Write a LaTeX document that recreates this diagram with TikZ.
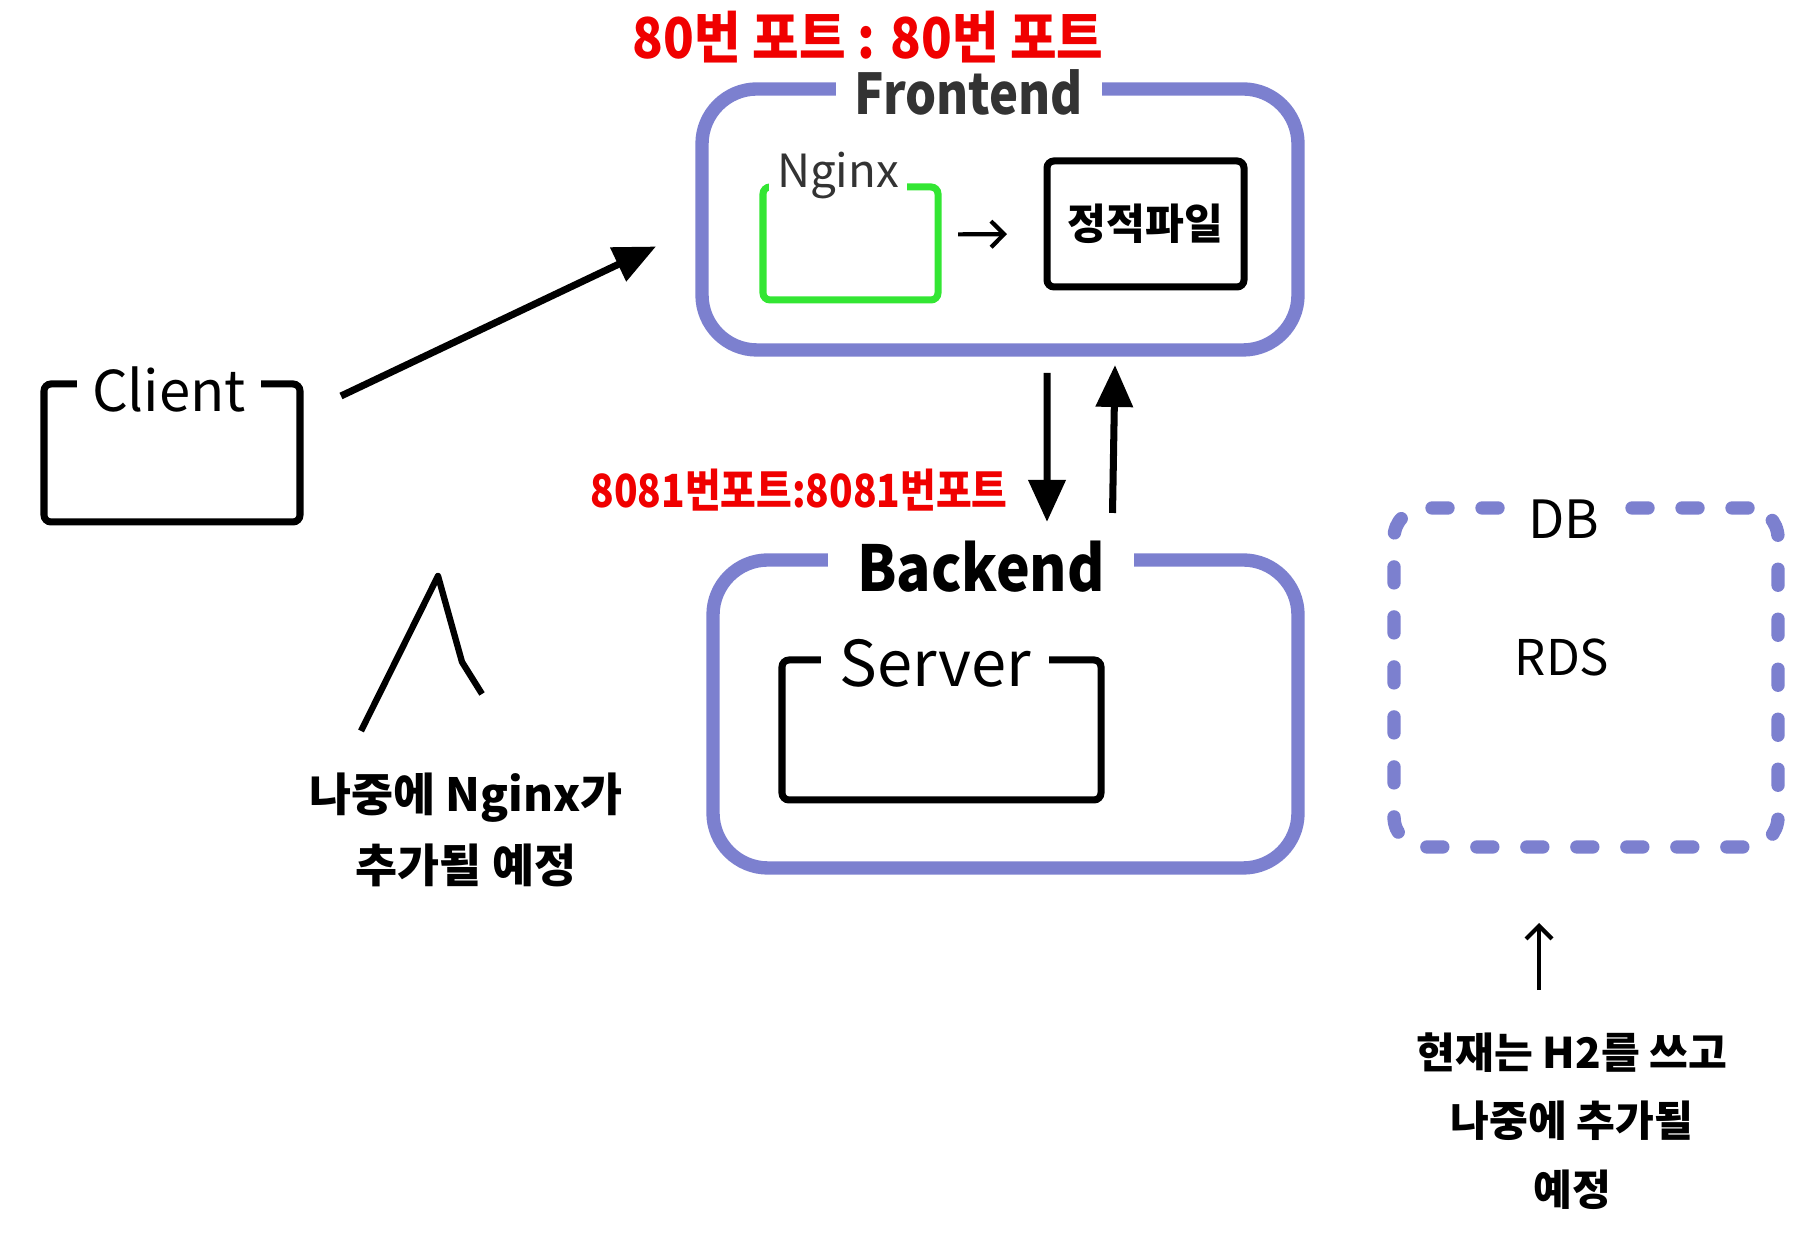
\documentclass[tikz,border=0pt]{standalone}
\usepackage{fontspec}
\setmainfont{Noto Sans CJK KR}
\usetikzlibrary{arrows.meta, positioning, calc}
\definecolor{FrameBlue}{HTML}{7C80CF}
\definecolor{PortRed}{HTML}{F00000}
\definecolor{NginxGreen}{HTML}{33E633}
\definecolor{InkGray}{HTML}{333333}
\tikzset{
  frame/.style={draw=FrameBlue, line width=3.8pt, rounded corners=0.55cm, outer sep=0pt},
  dbframe/.style={draw=FrameBlue, line width=3.8pt, rounded corners=0.3cm, outer sep=0pt,
                  line cap=round, dash pattern=on 0.16cm off 0.34cm},
  sketchbox/.style={draw=black, line width=2pt, rounded corners=2pt, outer sep=0pt},
  tag/.style={fill=white, inner ysep=1pt},
  bigarrow/.style={line width=2pt, -{Triangle[length=0.42cm, width=0.36cm]}},
  smallarrow/.style={line width=1.2pt, -{Straight Barb[length=1.3mm]}},
  portlabel/.style={text=PortRed, transform shape},
  note/.style={align=center, font=\fontsize{13}{20}\selectfont\bfseries},
}

\begin{document}
\begin{tikzpicture}
    \useasboundingbox (0,0) rectangle (17.99,12.54);

    % Port labels
    \node[portlabel, xscale=0.9, font=\fontsize{16}{19}\selectfont\bfseries] (port80) at (8.68,12.17) {80번 포트 : 80번 포트};
    \node[portlabel, xscale=0.85, font=\fontsize{13}{16}\selectfont\bfseries] (port8081) at (7.99,7.64) {8081번포트:8081번포트};

    % Frontend
    \node[frame, minimum width=5.96cm, minimum height=2.61cm] (frontend) at (10.00,10.345) {};
    \node[tag, inner xsep=0.22cm, text=InkGray, xscale=0.87, transform shape, font=\fontsize{16}{19}\selectfont\bfseries] (frontendlbl) at (9.69,11.62) {Frontend};

    \node[sketchbox, draw=NginxGreen, minimum width=1.75cm, minimum height=1.13cm] (nginx) at (8.505,10.105) {};
    \node[tag, inner xsep=0.08cm, text=InkGray, font=\fontsize{13}{15}\selectfont] (nginxlbl) at (8.38,10.78) {Nginx};

    \node[sketchbox, minimum width=1.97cm, minimum height=1.26cm, font=\fontsize{12}{14}\selectfont\bfseries] (static) at (11.455,10.30) {정적파일};
    \draw[smallarrow, shorten <=0.2cm, shorten >=0.4cm] ([yshift=0.09cm]nginx.east) -- ([yshift=-0.1cm]static.west);

    % Client
    \node[sketchbox, minimum width=2.56cm, minimum height=1.38cm] (client) at (1.72,8.01) {};
    \node[tag, inner xsep=0.15cm, font=\fontsize{16}{19}\selectfont] (clientlbl) at (1.69,8.64) {Client};
    \draw[bigarrow] ([xshift=0.41cm,yshift=-0.12cm]client.north east) -- ([xshift=-0.46cm,yshift=-0.27cm]frontend.west);

    % Backend
    \node[frame, minimum width=5.85cm, minimum height=3.08cm] (backend) at (10.055,5.40) {};
    \node[tag, inner xsep=0.32cm, xscale=0.9, transform shape, font=\fontsize{18}{21}\selectfont\bfseries] (backendlbl) at (9.81,6.87) {Backend};

    \node[sketchbox, minimum width=3.19cm, minimum height=1.40cm] (server) at (9.415,5.24) {};
    \node[tag, inner xsep=0.18cm, font=\fontsize{18}{21}\selectfont] (serverlbl) at (9.35,5.91) {Server};

    \draw[bigarrow] ([xshift=0.47cm,yshift=-0.23cm]frontend.south) -- ([xshift=0.415cm,yshift=0.38cm]backend.north);
    \draw[bigarrow] ([xshift=1.07cm,yshift=0.47cm]backend.north) -- ([xshift=1.15cm,yshift=-0.15cm]frontend.south);

    % DB
    \node[dbframe, minimum width=3.84cm, minimum height=3.39cm] (db) at (15.86,5.765) {};
    \node[tag, inner xsep=0.2cm, font=\fontsize{15}{18}\selectfont] (dblbl) at (15.64,7.35) {DB};
    \node[font=\fontsize{14}{17}\selectfont] (rds) at (15.62,5.97) {RDS};

    % Notes
    \draw[line width=1.8pt, line join=round] (3.61,5.23) -- (4.38,6.78) -- (4.62,5.92) -- (4.82,5.60);
    \node[note] (nginxnote) at (4.66,4.24) {나중에 Nginx가\\추가될 예정};

    \node[note, font=\fontsize{12}{19.5}\selectfont\bfseries] (h2note) at (15.72,1.33) {현재는 H2를 쓰고\\나중에 추가될\\예정};
    \draw[smallarrow] ([xshift=-0.33cm,yshift=0.3cm]h2note.north) -- ([xshift=-0.47cm,yshift=-0.76cm]db.south);
\end{tikzpicture}
\end{document}
